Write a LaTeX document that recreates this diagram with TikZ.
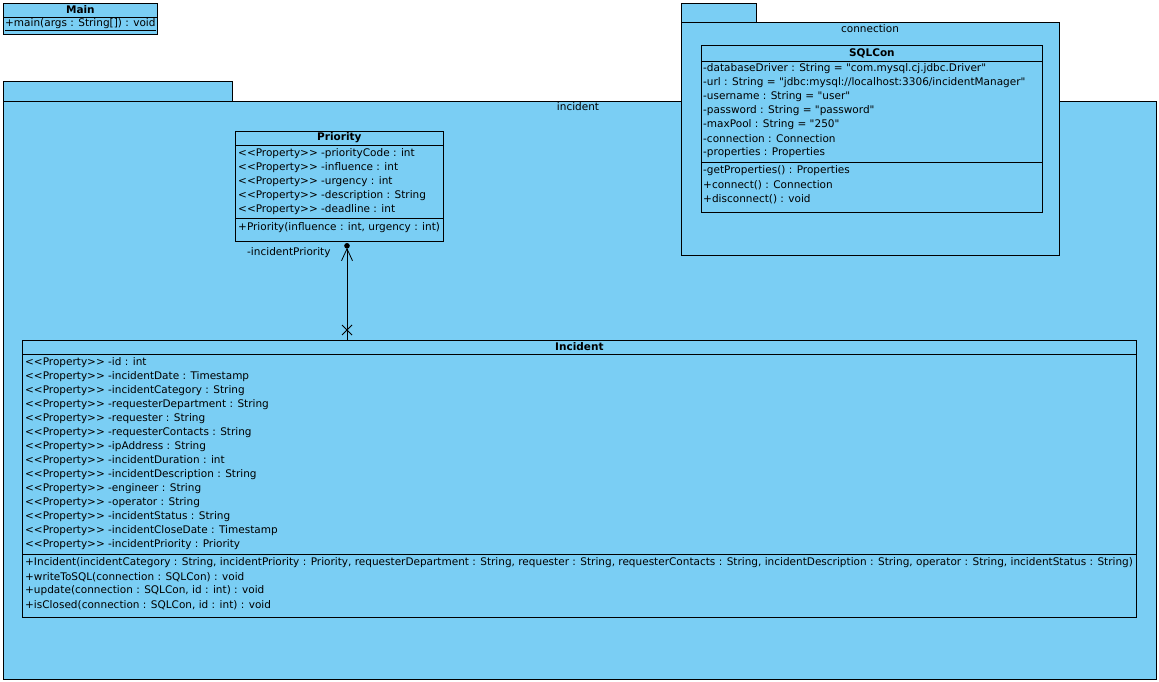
\documentclass[tikz,border=0pt]{standalone}
\usepackage{fontspec}
\newfontfamily\umlfont{DejaVu Sans}
\usetikzlibrary{arrows.meta}

\definecolor{umlblue}{RGB}{122,206,244}
\tikzset{
  box/.style={draw, fill=umlblue, line width=0.8pt, inner sep=0pt},
  pkg/.style={draw, fill=umlblue, line width=0.8pt},
  row/.style={anchor=west, inner sep=0pt, font=\umlfont\fontsize{10.5}{12}\selectfont},
  ttl/.style={inner sep=0pt, font=\umlfont\fontsize{10.5}{12}\selectfont\bfseries},
}

\begin{document}
\begin{tikzpicture}[x=1pt,y=-1pt]
        \useasboundingbox (0,0) rectangle (1159,682);

        % Main
        \node[box, anchor=north west, minimum width=154pt, minimum height=31pt] (main) at (3,3) {};
        \draw[line width=0.8pt] (main.west |- 0,17) -- (main.east |- 0,17);
        \node[ttl] (mainT) at (main.north |- 0,10) {Main};
        \node[row] (mainM) at (5,25) {\underline{+main(args : String[]) : void}};

        % package incident
        \draw[pkg] (3,81) rectangle (232,101);
        \draw[pkg] (3,101) rectangle (1156,679);
        \node[row, anchor=center] (incT) at (578,107) {incident};

        % package connection
        \draw[pkg] (681,3) rectangle (756,22);
        \draw[pkg] (681,22) rectangle (1059,255);
        \node[row, anchor=center] (connT) at (870,29) {connection};

        % SQLCon
        \node[box, anchor=north west, minimum width=341pt, minimum height=167pt] (sqlcon) at (701,45) {};
        \draw[line width=0.8pt] (sqlcon.west |- 0,61) -- (sqlcon.east |- 0,61);
        \draw[line width=0.8pt] (sqlcon.west |- 0,162) -- (sqlcon.east |- 0,162);
        \node[ttl] (sqlT) at (sqlcon.north |- 0,53) {SQLCon};
        \node[row] (s1) at (703,69) {-databaseDriver : String = "com.mysql.cj.jdbc.Driver"};
        \node[row] (s2) at (703,83) {-url : String = "jdbc:mysql://localhost:3306/incidentManager"};
        \node[row] (s3) at (703,97) {-username : String = "user"};
        \node[row] (s4) at (703,111) {-password : String = "password"};
        \node[row] (s5) at (703,125) {-maxPool : String = "250"};
        \node[row] (s6) at (703,139) {-connection : Connection};
        \node[row] (s7) at (703,153) {-properties : Properties};
        \node[row] (s8) at (703,171) {-getProperties() : Properties};
        \node[row] (s9) at (703,185) {+connect() : Connection};
        \node[row] (s10) at (703,199) {+disconnect() : void};

        % Priority
        \node[box, anchor=north west, minimum width=208pt, minimum height=110pt] (priority) at (235,131) {};
        \draw[line width=0.8pt] (priority.west |- 0,145) -- (priority.east |- 0,145);
        \draw[line width=0.8pt] (priority.west |- 0,218) -- (priority.east |- 0,218);
        \node[ttl] (prioT) at (priority.north |- 0,138) {Priority};
        \node[row] (p1) at (238,154) {<{}<Property>{}> -priorityCode : int};
        \node[row] (p2) at (238,168) {<{}<Property>{}> -influence : int};
        \node[row] (p3) at (238,182) {<{}<Property>{}> -urgency : int};
        \node[row] (p4) at (238,196) {<{}<Property>{}> -description : String};
        \node[row] (p5) at (238,210) {<{}<Property>{}> -deadline : int};
        \node[row] (p6) at (238,228) {+Priority(influence : int, urgency : int)};

        % Incident
        \node[box, anchor=north west, minimum width=1114pt, minimum height=277pt] (incident) at (22,340) {};
        \draw[line width=0.8pt] (incident.west |- 0,354) -- (incident.east |- 0,354);
        \draw[line width=0.8pt] (incident.west |- 0,554) -- (incident.east |- 0,554);
        \node[ttl] (incidentT) at (incident.north |- 0,347) {Incident};
        \node[row] (i1) at (25,363) {<{}<Property>{}> -id : int};
        \node[row] (i2) at (25,377) {<{}<Property>{}> -incidentDate : Timestamp};
        \node[row] (i3) at (25,391) {<{}<Property>{}> -incidentCategory : String};
        \node[row] (i4) at (25,405) {<{}<Property>{}> -requesterDepartment : String};
        \node[row] (i5) at (25,419) {<{}<Property>{}> -requester : String};
        \node[row] (i6) at (25,433) {<{}<Property>{}> -requesterContacts : String};
        \node[row] (i7) at (25,447) {<{}<Property>{}> -ipAddress : String};
        \node[row] (i8) at (25,461) {<{}<Property>{}> -incidentDuration : int};
        \node[row] (i9) at (25,475) {<{}<Property>{}> -incidentDescription : String};
        \node[row] (i10) at (25,489) {<{}<Property>{}> -engineer : String};
        \node[row] (i11) at (25,503) {<{}<Property>{}> -operator : String};
        \node[row] (i12) at (25,517) {<{}<Property>{}> -incidentStatus : String};
        \node[row] (i13) at (25,531) {<{}<Property>{}> -incidentCloseDate : Timestamp};
        \node[row] (i14) at (25,545) {<{}<Property>{}> -incidentPriority : Priority};
        \node[row] (m1) at (25,563) {+Incident(incidentCategory : String, incidentPriority : Priority, requesterDepartment : String, requester : String, requesterContacts : String, incidentDescription : String, operator : String, incidentStatus : String)};
        \node[row] (m2) at (25,577) {+writeToSQL(connection : SQLCon) : void};
        \node[row] (m3) at (25,591) {+update(connection : SQLCon, id : int) : void};
        \node[row] (m4) at (25,605) {+isClosed(connection : SQLCon, id : int) : void};

        % association incidentPriority
        \coordinate (assoc) at (347,0);
        \coordinate (xmark) at (347,330);
        \draw[line width=0.8pt, -{Straight Barb[length=12pt,width=11pt,line width=0.8pt]}] (incident.north -| assoc) -- ([yshift=-6pt]priority.south -| assoc);
        \fill (priority.south -| assoc) ++(0,4) circle (2.8pt);
        \draw[line width=0.8pt] ([shift={(-5,-5)}]xmark) -- ([shift={(5,5)}]xmark);
        \draw[line width=0.8pt] ([shift={(-5,5)}]xmark) -- ([shift={(5,-5)}]xmark);
        \node[row] (roleP) at (247,253) {-incidentPriority};

\end{tikzpicture}
\end{document}
